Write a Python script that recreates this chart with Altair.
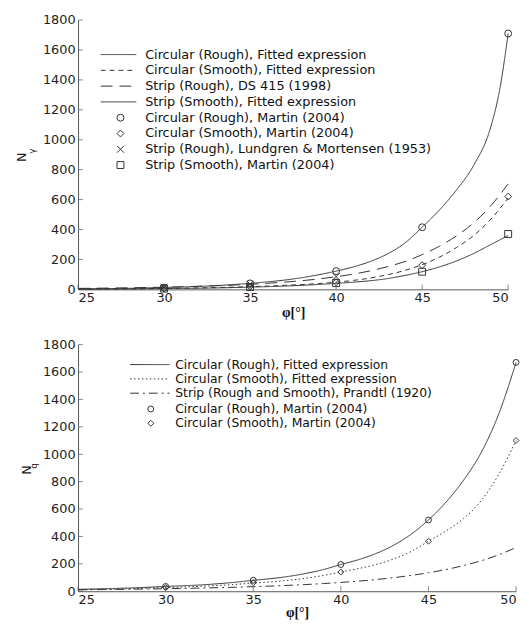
import altair as alt
import pandas as pd

# ---------------- data ----------------
PHI = [25, 26, 27, 28, 29, 30, 31, 32, 33, 34, 35, 36, 37, 38, 39,
       40, 41, 42, 43, 44, 45, 46, 47, 48, 49, 50]
PHI_CR = [25, 26, 27, 28, 29, 30, 31, 32, 33, 34, 35, 36, 37, 38, 39,
          40, 41, 42, 43, 44, 45, 46, 47, 48, 49, 49.5, 50]
PTS_PHI = [30, 35, 40, 45, 50]
LM_PHI = [30, 35, 40]
XTICKS = [25, 30, 35, 40, 45, 50]
YTICKS = [0, 200, 400, 600, 800, 1000, 1200, 1400, 1600, 1800]

# top panel (N_gamma)
NG_LINE_NAMES = ["Circular (Rough), Fitted expression",
                 "Circular (Smooth), Fitted expression",
                 "Strip (Rough), DS 415 (1998)",
                 "Strip (Smooth), Fitted expression"]
NG_CR_FIT = [3, 4, 5.5, 7, 9.5, 12.5, 16, 20, 25, 32, 40, 50, 62, 78, 98,
             122, 150, 187, 238, 310, 415, 530, 665, 830, 1090, 1330, 1710]
NG_CS_FIT = [2, 2.5, 3, 4, 5, 6, 8, 10, 12, 15, 18, 22, 27, 32, 39,
             48, 60, 76, 98, 127, 165, 215, 280, 360, 470, 610]
NG_SR_DS415 = [6.5, 7.6, 9.0, 10.5, 12.4, 14.6, 17.3, 20.4, 24.1, 28.6, 34.0,
               40.5, 48.4, 58.0, 69.8, 84.2, 102, 124, 152, 186, 232, 288,
               358, 445, 560, 705]
NG_SS_FIT = [1.5, 2, 2.5, 3, 4, 5, 6, 7.5, 9.5, 12, 15, 18, 22, 27, 33,
             40, 48, 58, 72, 93, 118, 150, 190, 240, 300, 360]
NG_PT_NAMES = ["Circular (Rough), Martin (2004)",
               "Circular (Smooth), Martin (2004)",
               "Strip (Rough), Lundgren & Mortensen (1953)",
               "Strip (Smooth), Martin (2004)"]
NG_CR_MARTIN = [12, 40, 122, 415, 1710]
NG_CS_MARTIN = [6, 19, 48, 162, 620]
NG_SR_LM = [14.75, 34.48, 85.57]
NG_SS_MARTIN = [5, 15, 42, 118, 370]

# bottom panel (N_q)
NQ_LINE_NAMES = ["Circular (Rough), Fitted expression ",
                 "Circular (Smooth), Fitted expression ",
                 "Strip (Rough and Smooth), Prandtl (1920)"]
NQ_CR_FIT = [14, 17, 20, 24, 29, 35, 40, 46, 55, 66, 80, 92, 108, 130, 158,
             195, 230, 275, 335, 415, 520, 650, 810, 1010, 1290, 1670]
NQ_CS_FIT = [11, 13, 16, 19, 23, 27, 31, 36, 42, 50, 60, 68, 80, 95, 115,
             140, 165, 195, 235, 290, 365, 440, 530, 660, 850, 1100]
NQ_PRANDTL = [10.66, 11.85, 13.20, 14.72, 16.44, 18.40, 20.63, 23.18, 26.09,
              29.44, 33.30, 37.75, 42.92, 48.93, 55.96, 64.20, 73.90, 85.38,
              99.02, 115.31, 134.88, 158.51, 187.21, 222.31, 265.51, 319.07]
NQ_PT_NAMES = ["Circular (Rough), Martin (2004) ",
               "Circular (Smooth), Martin (2004) "]
NQ_CR_MARTIN = [35, 80, 195, 520, 1670]
NQ_CS_MARTIN = [27, 62, 140, 365, 1100]


def long_df(key, names, xs, ys):
    rows = []
    for n, xv, yv in zip(names, xs, ys):
        for a, b in zip(xv, yv):
            rows.append({key: n, "phi": a, "N": b})
    return pd.DataFrame(rows)


ng_lines = long_df("curve", NG_LINE_NAMES, [PHI_CR, PHI, PHI, PHI],
                   [NG_CR_FIT, NG_CS_FIT, NG_SR_DS415, NG_SS_FIT])
ng_pts = long_df("source", NG_PT_NAMES, [PTS_PHI, PTS_PHI, LM_PHI, PTS_PHI],
                 [NG_CR_MARTIN, NG_CS_MARTIN, NG_SR_LM, NG_SS_MARTIN])
nq_lines = long_df("curve2", NQ_LINE_NAMES, [PHI, PHI, PHI],
                   [NQ_CR_FIT, NQ_CS_FIT, NQ_PRANDTL])
nq_pts = long_df("source2", NQ_PT_NAMES, [PTS_PHI, PTS_PHI],
                 [NQ_CR_MARTIN, NQ_CS_MARTIN])

SANS = "DejaVu Sans"
INK = "#333333"
AXC = "#555555"


def panel(W, H, lines, lkey, pts, pkey, line_names, dashes, leg_line,
          pt_names, shapes, pt_size, leg_pt, sub, n_pos, sub_pos, ext_x, fs,
          tpad):
    xs = alt.Scale(domain=[25, 50], nice=False, zero=False)
    ys = alt.Scale(domain=[0, 1800], nice=False)
    x = alt.X("phi:Q", scale=xs, axis=alt.Axis(
        values=XTICKS, ticks=False, grid=False, labelPadding=2,
        labelFont=SANS, labelFontSize=13, labelColor="#222", domainColor=AXC,
        labelOverlap=False,
        title="φ[°]", titleFont="Liberation Serif", titleFontSize=14,
        titleFontWeight="bold", titleColor="#111", titlePadding=tpad))
    y = alt.Y("N:Q", scale=ys, axis=alt.Axis(
        values=YTICKS, ticks=False, grid=False, labelPadding=3, format="d",
        labelFont=SANS, labelFontSize=13, labelColor="#222", domainColor=AXC,
        labelOverlap=False, title=None))

    lx, ly, lo, rp, path = leg_line
    line_layer = alt.Chart(lines).mark_line(
        color=INK, strokeWidth=1, interpolate="monotone").encode(
        x=x, y=y,
        strokeDash=alt.StrokeDash(lkey + ":N", sort=line_names, scale=alt.Scale(
            domain=line_names, range=dashes), legend=alt.Legend(
            orient="none", legendX=lx, legendY=ly, title=None, padding=0,
            symbolType=path, symbolSize=4, symbolStrokeWidth=1,
            symbolStrokeColor=INK, labelFont=SANS, labelFontSize=fs,
            labelColor="#111", labelOffset=lo, rowPadding=rp, labelLimit=500)))

    px, py, po, prp = leg_pt
    pt_layer = alt.Chart(pts).mark_point(
        filled=False, color=INK, strokeWidth=1, size=pt_size, opacity=1).encode(
        x=x, y=y,
        shape=alt.Shape(pkey + ":N", sort=pt_names, scale=alt.Scale(
            domain=pt_names, range=shapes), legend=alt.Legend(
            orient="none", legendX=px, legendY=py, title=None, padding=0,
            symbolSize=pt_size, symbolStrokeWidth=1, symbolStrokeColor=INK,
            symbolFillColor="transparent", labelFont=SANS, labelFontSize=fs,
            labelColor="#111", labelOffset=po, rowPadding=prp, labelLimit=500)))

    xt = alt.Chart(pd.DataFrame({"phi": XTICKS})).mark_tick(
        color=AXC, size=5, thickness=1).encode(
        x=x, y=alt.value(H - 2.5))
    yt = alt.Chart(pd.DataFrame({"N": YTICKS})).mark_tick(
        color=AXC, size=5, thickness=1).encode(
        y=y, x=alt.value(2.5))

    n_txt = alt.Chart(pd.DataFrame({"label": ["N"]})).mark_text(
        angle=270, font=SANS, fontSize=13, color="#222").encode(
        x=alt.value(n_pos[0]), y=alt.value(n_pos[1]), text="label:N")
    s_txt = alt.Chart(pd.DataFrame({"label": [sub]})).mark_text(
        angle=270, font=SANS, fontSize=9, color="#222").encode(
        x=alt.value(sub_pos[0]), y=alt.value(sub_pos[1]), text="label:N")
    ext = alt.Chart(pd.DataFrame({"label": ["."]})).mark_text(
        opacity=0, align="left", baseline="top", fontSize=2).encode(
        x=alt.value(ext_x), y=alt.value(-8), text="label:N")

    return alt.layer(line_layer, pt_layer, xt, yt, n_txt, s_txt, ext).properties(
        width=W, height=H)


X_PATH = "M-1,-1L1,1M-1,1L1,-1"

top = panel(
    436, 273, ng_lines, "curve", ng_pts, "source", NG_LINE_NAMES,
    [[1, 0], [5, 4], [12, 7], [1, 0]],
    (34.5, 28.5, 20.5, 2, "M-18,0H18"),
    NG_PT_NAMES, ["circle", "diamond", X_PATH, "square"], 49,
    (36.5, 92.5, 18.5, 2),
    "γ", (-57, 139), (-47, 133), -70, 13, 2)

bottom = panel(
    444, 250, nq_lines, "curve2", nq_pts, "source2", NQ_LINE_NAMES,
    [[1, 0], [1.5, 2.5], [9, 4, 2, 4]],
    (66.5, 14, 19.5, 1.5, "M-20,0H20"),
    NQ_PT_NAMES, ["circle", "diamond"], 36,
    (67.5, 59, 18.5, 1.5),
    "q", (-52, 127), (-45, 123), -63, 12.5, 0)

chart = alt.concat(top, bottom, columns=1, align="none", spacing=17).properties(
    padding={"left": 1, "top": 0, "right": 0, "bottom": 0}
).resolve_scale(
    strokeDash="independent", shape="independent"
).resolve_legend(
    strokeDash="independent", shape="independent"
).configure_view(strokeWidth=0)

chart.save("out.html", embed_options={"renderer": "svg", "actions": False})
